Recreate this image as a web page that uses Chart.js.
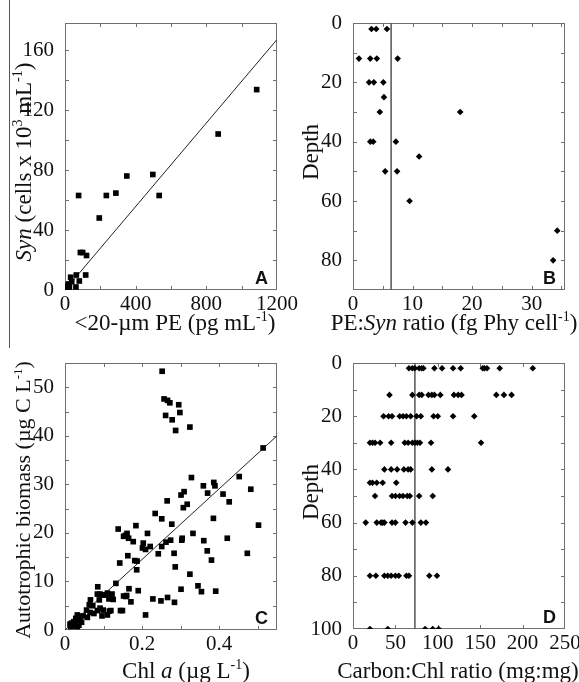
<!DOCTYPE html>
<html>
<head>
<meta charset="utf-8">
<script src="https://cdn.jsdelivr.net/npm/chart.js@4.4.0/dist/chart.umd.min.js"></script>
<style>
  html, body { margin: 0; padding: 0; background: #fff; overflow: hidden; }
  #page { position: relative; width: 579px; height: 682px; }
  canvas { position: absolute; }
  #sep { position: absolute; left: 9px; top: 0; width: 1px; height: 348px; background: #555; }
</style>
</head>
<body>
<div id="page">
  <div id="sep"></div>
  <canvas id="chartB" width="289" height="340" style="left:290px;top:0"></canvas>
  <canvas id="chartA" width="300" height="340" style="left:0;top:0"></canvas>
  <canvas id="chartC" width="290" height="342" style="left:0;top:340px"></canvas>
  <canvas id="chartD" width="289" height="342" style="left:290px;top:340px"></canvas>
</div>
<script>
// panel A: <20-um PE vs Syn abundance
var peA  = [1085, 867, 497, 350, 533, 234, 77, 288, 194, 87, 100, 122, 117, 32, 64, 81, 62, 38, 10, 5, 15, 20, 8, 25];
var synA = [133.6, 104, 77, 76, 63, 63, 63, 64.6, 48, 25, 25, 23, 10, 8.5, 10, 6, 2, 5.5, 2, 3, 1, 4, 0.5, 2];
var fitAx = [0, 1200];
var fitAy = [0, 167];
var ticksAx = [0, 400, 800, 1200];
var ticksAy = [0, 40, 80, 120, 160];

// panel B: PE:Syn ratio by depth
var ratioB = [3.1, 3.9, 5.7, 1, 2.9, 4, 7.5, 2.7, 3.5, 5.1, 5.2, 4.5, 18, 2.9, 3.4, 7.2, 11.1, 5.4, 7.4, 9.5, 34.3, 33.6];
var depthB = [2, 2, 2, 12, 12, 12, 12, 20, 20, 20, 25, 30, 30, 40, 40, 40, 45, 50, 50, 60, 70, 80];
var meanB = 6.4;
var ticksBx = [0, 10, 20, 30];
var ticksBy = [0, 20, 40, 60, 80];

// panel C: Chl a vs autotrophic biomass
var chlC = [0.252, 0.257, 0.266, 0.272, 0.295, 0.261, 0.298, 0.278, 0.287, 0.324,
  0.514, 0.452, 0.328, 0.359, 0.386, 0.389, 0.482, 0.370, 0.410, 0.426, 0.301, 0.309, 0.307, 0.317, 0.265,
  0.234, 0.251, 0.277, 0.385, 0.332, 0.274, 0.262, 0.251, 0.242, 0.221, 0.303, 0.304, 0.360, 0.421, 0.369,
  0.380, 0.283, 0.286, 0.324, 0.473, 0.502, 0.345, 0.354, 0.301, 0.391, 0.228, 0.249, 0.266, 0.284,
  0.138, 0.161, 0.184, 0.214, 0.157, 0.152, 0.165, 0.177, 0.203, 0.201, 0.209, 0.163, 0.181, 0.187, 0.142,
  0.186, 0.132, 0.085, 0.190, 0.166,
  0.084, 0.091, 0.098, 0.105, 0.110, 0.122, 0.152, 0.160, 0.158, 0.125, 0.066, 0.171, 0.114, 0.089, 0.091,
  0.099, 0.115, 0.119, 0.144, 0.149, 0.096, 0.110, 0.209, 0.084, 0.063, 0.072, 0.056, 0.065, 0.075, 0.047,
  0.058, 0.032, 0.028, 0.034, 0.023, 0.017, 0.039, 0.013, 0.026, 0.032, 0.043, 0.036, 0.022, 0.028, 0.015];
var carbonC = [53.3, 47.6, 47.3, 46.8, 46.4, 44.2, 44.8, 43.3, 41.1, 41.8,
  37.5, 31.6, 31.4, 29.7, 30.4, 29.7, 29.0, 28.2, 28.0, 26.4, 27.8, 28.5, 25.2, 25.9, 26.6,
  24.0, 22.9, 21.8, 23.0, 19.9, 18.5, 18.1, 17.2, 15.7, 17.2, 18.5, 18.9, 18.4, 18.9, 16.3,
  14.4, 15.8, 13.0, 11.5, 15.8, 21.6, 9.1, 7.9, 8.4, 8.0, 6.4, 6.0, 6.7, 5.7,
  20.8, 19.9, 21.5, 19.9, 19.5, 19.3, 18.9, 18.2, 17.9, 16.9, 16.6, 15.3, 14.3, 14.2, 13.8,
  12.4, 9.6, 8.9, 8.1, 8.5,
  7.4, 7.4, 7.2, 7.2, 7.6, 7.4, 7.0, 7.1, 6.9, 6.3, 6.2, 5.8, 6.4, 6.2, 4.5,
  4.1, 3.9, 4.0, 4.0, 4.0, 2.9, 3.1, 3.1, 4.0, 5.2, 5.0, 4.1, 3.6, 3.4, 2.9,
  2.6, 3.1, 2.4, 2.8, 1.7, 1.4, 2.1, 1.2, 0.8, 0.7, 1.6, 1.0, 1.5, 1.5, 0.7];
var fitCx = [0, 0.55];
var fitCy = [0, 40];
var ticksCx = [0, 0.2, 0.4];
var ticksCy = [0, 10, 20, 30, 40, 50];

// panel D: Carbon:Chl ratio by depth
var ratioD = [66, 70, 73, 78, 81, 83, 96, 105, 118, 127, 153, 155, 158, 173, 212,
  43, 70, 78, 81, 89, 93, 96, 103, 119, 124, 128, 169, 178, 187,
  36, 42, 46, 55, 59, 63, 68, 75, 80, 95, 100, 118, 143,
  20, 23, 26, 32, 45, 61, 65, 70, 73, 76, 79, 92, 151,
  37, 45, 52, 60, 65, 68, 93, 112,
  20, 23, 28, 35, 51,
  26, 46, 50, 55, 59, 64, 67, 78, 94,
  15, 28, 33, 35, 37, 46, 50, 62, 70, 80, 86,
  20, 27, 37, 41, 45, 50, 54, 63, 66, 90, 99,
  20, 41, 85, 94, 101];
var depthD = [2, 2, 2, 2, 2, 2, 2, 2, 2, 2, 2, 2, 2, 2, 2,
  12, 12, 12, 12, 12, 12, 12, 12, 12, 12, 12, 12, 12, 12,
  20, 20, 20, 20, 20, 20, 20, 20, 20, 20, 20, 20, 20,
  30, 30, 30, 30, 30, 30, 30, 30, 30, 30, 30, 30, 30,
  40, 40, 40, 40, 40, 40, 40, 40,
  45, 45, 45, 45, 45,
  50, 50, 50, 50, 50, 50, 50, 50, 50,
  60, 60, 60, 60, 60, 60, 60, 60, 60, 60, 60,
  80, 80, 80, 80, 80, 80, 80, 80, 80, 80, 80,
  100, 100, 100, 100, 100];
var meanD = 73;
var ticksDx = [0, 50, 100, 150, 200, 250];
var ticksDy = [0, 20, 40, 60, 80, 100];

var serif = '"Liberation Serif", "DejaVu Serif", serif';

function toPoints(xs, ys) {
  return xs.map(function (x, i) { return { x: x, y: ys[i] }; });
}

function labelFrom(list) {
  return function (v) {
    for (var i = 0; i < list.length; i++) {
      if (Math.abs(v - list[i]) < 1e-6) return String(list[i]);
    }
    return '';
  };
}

// draw a string made of normal / italic / superscript pieces
function drawRich(ctx, segs, cx, cy, rot, size) {
  function fontOf(s) {
    return (s.i ? 'italic ' : '') + (s.sup ? Math.round(size * 0.6) : size) + 'px ' + serif;
  }
  var total = 0;
  segs.forEach(function (s) { ctx.font = fontOf(s); s.w = ctx.measureText(s.t).width; total += s.w; });
  ctx.save();
  ctx.translate(cx, cy);
  ctx.rotate(rot);
  ctx.fillStyle = '#111';
  ctx.textBaseline = 'alphabetic';
  ctx.textAlign = 'left';
  var x = -total / 2;
  segs.forEach(function (s) {
    ctx.font = fontOf(s);
    ctx.fillText(s.t, x, size * 0.34 - (s.sup ? size * 0.38 : 0));
    x += s.w;
  });
  ctx.restore();
}

// box, inward ticks, panel letter and axis titles
var frame = {
  id: 'frame',
  beforeDatasetsDraw: function (chart) {
    var ctx = chart.ctx, a = chart.chartArea;
    var xs = chart.scales.x, ys = chart.scales.y;
    ctx.save();
    ctx.strokeStyle = '#707070';
    ctx.lineWidth = 1;
    ctx.strokeRect(Math.round(a.left) + 0.5, Math.round(a.top) + 0.5,
      Math.round(a.right - a.left) - 1, Math.round(a.bottom - a.top) - 1);
    ctx.beginPath();
    xs.ticks.forEach(function (t) {
      var p = Math.round(xs.getPixelForValue(t.value)) + 0.5;
      if (p < a.left + 2 || p > a.right - 2) return;
      ctx.moveTo(p, a.bottom); ctx.lineTo(p, a.bottom - 4);
      ctx.moveTo(p, a.top); ctx.lineTo(p, a.top + 4);
    });
    ys.ticks.forEach(function (t) {
      var p = Math.round(ys.getPixelForValue(t.value)) + 0.5;
      if (p < a.top + 2 || p > a.bottom - 2) return;
      ctx.moveTo(a.left, p); ctx.lineTo(a.left + 4, p);
      ctx.moveTo(a.right, p); ctx.lineTo(a.right - 4, p);
    });
    ctx.stroke();
    ctx.restore();
  },
  afterDraw: function (chart, args, opts) {
    var ctx = chart.ctx, a = chart.chartArea;
    ctx.save();
    ctx.fillStyle = '#111';
    ctx.font = 'bold 18px "Liberation Sans", Arial, sans-serif';
    ctx.textAlign = 'right';
    ctx.textBaseline = 'alphabetic';
    ctx.fillText(opts.letter, a.right - 9, a.bottom - 6);
    ctx.restore();
    drawRich(ctx, opts.xTitle.segs, opts.xTitle.x, opts.xTitle.y, 0, 23);
    drawRich(ctx, opts.yTitle.segs, opts.yTitle.x, opts.yTitle.y, -Math.PI / 2, opts.yTitle.size || 23);
  }
};

function makePanel(id, p) {
  var datasets = [{
    data: toPoints(p.xs, p.ys),
    pointStyle: p.marker,
    pointRadius: p.radius,
    pointHoverRadius: p.radius,
    backgroundColor: '#000',
    borderWidth: 0
  }, {
    data: toPoints(p.lineX, p.lineY),
    showLine: true,
    borderColor: p.lineColor,
    borderWidth: p.lineWidth,
    pointRadius: 0,
    fill: false
  }];

  return new Chart(document.getElementById(id), {
    type: 'scatter',
    data: { datasets: datasets },
    plugins: [frame],
    options: {
      responsive: false,
      animation: false,
      events: [],
      layout: { padding: { left: 0, top: 23, right: p.padRight, bottom: 0 } },
      plugins: {
        legend: { display: false },
        tooltip: { enabled: false },
        frame: { letter: p.letter, xTitle: p.xTitle, yTitle: p.yTitle }
      },
      scales: {
        x: {
          type: 'linear', min: p.xMin, max: p.xMax,
          grid: { display: false }, border: { display: false },
          ticks: {
            stepSize: p.xStep, autoSkip: false, maxRotation: 0, includeBounds: false,
            padding: -6, color: '#111', font: { family: serif, size: 21 },
            callback: labelFrom(p.xLabels)
          },
          afterFit: function (s) { s.height = p.xHeight; }
        },
        y: {
          type: 'linear', min: p.yMin, max: p.yMax, reverse: !!p.yReverse,
          grid: { display: false }, border: { display: false },
          ticks: {
            stepSize: p.yStep, autoSkip: false, includeBounds: false,
            padding: 3, color: '#111', font: { family: serif, size: 21 },
            callback: labelFrom(p.yLabels)
          },
          afterFit: function (s) { s.width = p.yWidth; }
        }
      }
    }
  });
}

makePanel('chartA', {
  xs: peA, ys: synA, marker: 'rect', radius: 4,
  lineX: fitAx, lineY: fitAy, lineColor: '#222', lineWidth: 1,
  xMin: 0, xMax: 1200, xStep: 200, xLabels: ticksAx,
  yMin: 0, yMax: 178, yStep: 20, yLabels: ticksAy,
  yWidth: 65, xHeight: 50, padRight: 23, letter: 'A',
  xTitle: { x: 175, y: 322, segs: [{ t: '<20-µm PE (pg mL' }, { t: '-1', sup: true }, { t: ')' }] },
  yTitle: { x: 23, y: 162, segs: [{ t: 'Syn', i: true }, { t: ' (cells x 10' }, { t: '3', sup: true }, { t: ' mL' }, { t: '-1', sup: true }, { t: ')' }] }
});

makePanel('chartB', {
  xs: ratioB, ys: depthB, marker: 'rectRot', radius: 3.3,
  lineX: [meanB, meanB], lineY: [0, 90], lineColor: '#555', lineWidth: 1.5,
  xMin: 0, xMax: 35.6, xStep: 5, xLabels: ticksBx,
  yMin: 0, yMax: 90, yStep: 10, yLabels: ticksBy, yReverse: true,
  yWidth: 63, xHeight: 50, padRight: 14, letter: 'B',
  xTitle: { x: 164, y: 322, segs: [{ t: 'PE:' }, { t: 'Syn', i: true }, { t: ' ratio (fg Phy cell' }, { t: '-1', sup: true }, { t: ')' }] },
  yTitle: { x: 20, y: 152, segs: [{ t: 'Depth' }] }
});

makePanel('chartC', {
  xs: chlC, ys: carbonC, marker: 'rect', radius: 4,
  lineX: fitCx, lineY: fitCy, lineColor: '#222', lineWidth: 1,
  xMin: 0, xMax: 0.55, xStep: 0.1, xLabels: ticksCx,
  yMin: 0, yMax: 55, yStep: 5, yLabels: ticksCy,
  yWidth: 65, xHeight: 52, padRight: 13, letter: 'C',
  xTitle: { x: 186, y: 330, segs: [{ t: 'Chl ' }, { t: 'a', i: true }, { t: ' (µg L' }, { t: '-1', sup: true }, { t: ')' }] },
  yTitle: { x: 23, y: 160, size: 22, segs: [{ t: 'Autotrophic biomass (µg C L' }, { t: '-1', sup: true }, { t: ')' }] }
});

makePanel('chartD', {
  xs: ratioD, ys: depthD, marker: 'rectRot', radius: 3.3,
  lineX: [meanD, meanD], lineY: [0, 100], lineColor: '#555', lineWidth: 1.5,
  xMin: 0, xMax: 250, xStep: 50, xLabels: ticksDx,
  yMin: 0, yMax: 100, yStep: 10, yLabels: ticksDy, yReverse: true,
  yWidth: 63, xHeight: 53, padRight: 14, letter: 'D',
  xTitle: { x: 168, y: 330, segs: [{ t: 'Carbon:Chl ratio (mg:mg)' }] },
  yTitle: { x: 20, y: 152, segs: [{ t: 'Depth' }] }
});
</script>
</body>
</html>
